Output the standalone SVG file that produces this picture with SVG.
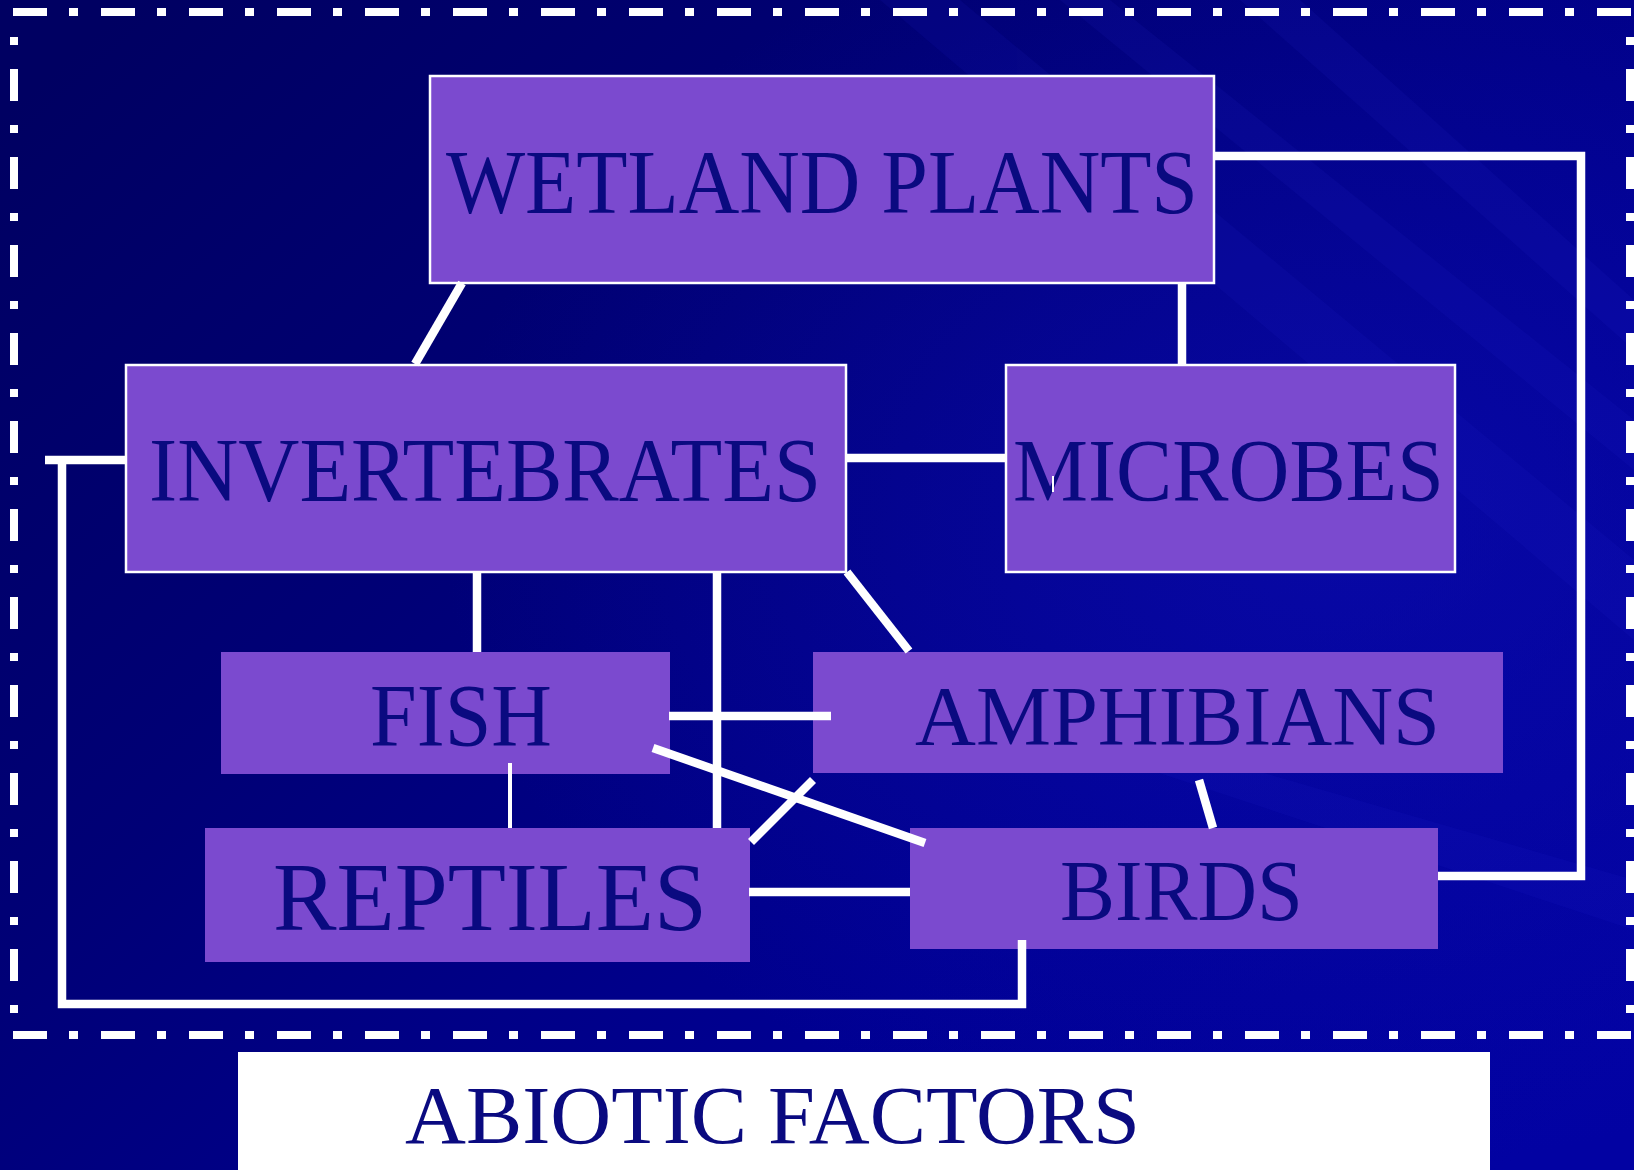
<svg xmlns="http://www.w3.org/2000/svg" width="1634" height="1170" viewBox="0 0 1634 1170">
<defs>
<linearGradient id="bg" x1="0" y1="0.1" x2="1" y2="0.9">
<stop offset="0" stop-color="#000062"/>
<stop offset="0.35" stop-color="#000076"/>
<stop offset="0.7" stop-color="#000092"/>
<stop offset="1" stop-color="#0202a2"/>
</linearGradient>
<radialGradient id="glow" cx="0.82" cy="0.45" r="0.55">
<stop offset="0" stop-color="#1010b8" stop-opacity="0.5"/>
<stop offset="1" stop-color="#1010b8" stop-opacity="0"/>
</radialGradient>
<style>
.node{fill:#7b4acf}
.bordered{stroke:#ffffff;stroke-width:2.5}
.label{font-family:"Liberation Serif","Times New Roman",serif;fill:#0a0a80}
.conn{stroke:#ffffff;stroke-width:8.5;fill:none;stroke-linecap:butt;stroke-linejoin:miter}
.thin{stroke-width:4}
.frame{stroke:#ffffff;stroke-width:8;fill:none;stroke-dasharray:34 22 9 23}
.frameV{stroke:#ffffff;stroke-width:8;fill:none;stroke-dasharray:8 24 32 24}
.streak{fill:#2a2ad6}
</style>
</defs>
<rect x="0" y="0" width="1634" height="1170" fill="url(#bg)"/>
<rect x="0" y="0" width="1634" height="1170" fill="url(#glow)"/>
<g opacity="0.1">
<polygon class="streak" points="880,0 960,0 1634,560 1634,640"/>
<polygon class="streak" points="1060,0 1110,0 1634,420 1634,470"/>
<polygon class="streak" points="1240,0 1300,0 1634,300 1634,350"/>
<polygon class="streak" points="1150,740 1634,880 1634,930 1150,770"/>
</g>
<g id="frame">
<path class="frame" d="M13 12 H1634"/>
<path class="frame" d="M13 1035 H1634"/>
<path class="frameV" d="M14 37 V1035"/>
<path class="frameV" d="M1630 37 V1035"/>
</g>
<g id="node-wetland-plants">
<rect class="node bordered" x="430" y="76" width="784" height="207"/>
<text class="label" x="446" y="213" font-size="90" textLength="752" lengthAdjust="spacingAndGlyphs">WETLAND PLANTS</text>
</g>
<g id="node-invertebrates">
<rect class="node bordered" x="126" y="365" width="720" height="207"/>
<text class="label" x="149" y="501" font-size="90" textLength="672" lengthAdjust="spacingAndGlyphs">INVERTEBRATES</text>
</g>
<g id="node-microbes">
<rect class="node bordered" x="1006" y="365" width="449" height="207"/>
<text class="label" x="1013" y="500" font-size="88" textLength="431" lengthAdjust="spacingAndGlyphs">MICROBES</text>
<line x1="1053" y1="476" x2="1053" y2="492" stroke="#ffffff" stroke-width="2"/>
</g>
<g id="node-fish">
<rect class="node" x="221" y="652" width="449" height="122"/>
<text class="label" x="370" y="745" font-size="88" textLength="182" lengthAdjust="spacingAndGlyphs">FISH</text>
</g>
<g id="node-amphibians">
<rect class="node" x="813" y="652" width="690" height="121"/>
<text class="label" x="915" y="745" font-size="85" textLength="525" lengthAdjust="spacingAndGlyphs">AMPHIBIANS</text>
</g>
<g id="node-reptiles">
<rect class="node" x="205" y="828" width="545" height="134"/>
<text class="label" x="273" y="930" font-size="98" textLength="434" lengthAdjust="spacingAndGlyphs">REPTILES</text>
</g>
<g id="node-birds">
<rect class="node" x="910" y="828" width="528" height="121"/>
<text class="label" x="1060" y="920" font-size="86" textLength="243" lengthAdjust="spacingAndGlyphs">BIRDS</text>
</g>
<g id="node-abiotic-factors">
<rect x="238" y="1052" width="1252" height="118" fill="#ffffff"/>
<text class="label" x="405" y="1143" font-size="83" textLength="735" lengthAdjust="spacingAndGlyphs">ABIOTIC FACTORS</text>
</g>
<g id="connectors">
<path class="conn" d="M462 283 L415 364"/>
<path class="conn" d="M1182 283 V364"/>
<path class="conn" d="M1215 156 H1581 V876 H1438"/>
<path class="conn" d="M847 458 H1005"/>
<path class="conn" d="M45 460 H125"/>
<path class="conn" d="M62 460 V1004 H1022 V940"/>
<path class="conn" d="M477 573 V652"/>
<path class="conn" d="M717 573 V828"/>
<path class="conn" d="M847 572 L909 651"/>
<path class="conn" d="M669 716 H831"/>
<path class="conn" d="M653 748 L925 843"/>
<path class="conn" d="M813 780 L751 842"/>
<path class="conn" d="M749 892 H910"/>
<path class="conn thin" d="M510 763 V828"/>
<path class="conn" d="M1199 780 L1213 828"/>
</g>
</svg>
